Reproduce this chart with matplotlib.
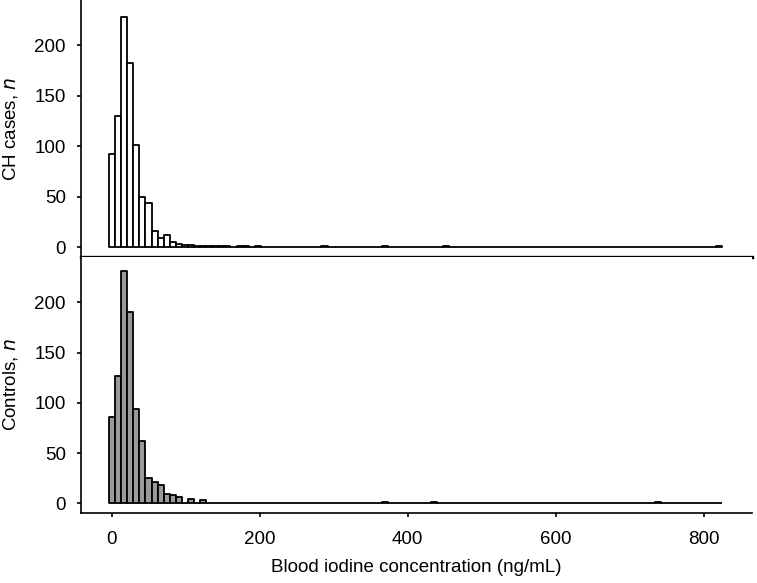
import numpy as np
import matplotlib
matplotlib.use("Agg")
import matplotlib.pyplot as plt

plt.rcParams['font.family'] = ['Liberation Sans', 'DejaVu Sans']

# Histogram bins (blood iodine, ng/mL)
bin_start = -3.6
bin_width = 8.2
n_bins = 101

# CH cases counts per bin (non-zero bins)
cases_bins = [0, 1, 2, 3, 4, 5, 6, 7, 8, 9, 10, 11, 12, 13, 14, 15, 16, 17, 18, 19, 21, 22, 24, 35, 45, 55, 100]
cases_counts = [92, 130, 228, 183, 101, 50, 44, 16, 9, 12, 5, 3, 2, 2, 1, 1, 1, 1, 1, 1, 1, 1, 1, 1, 1, 1, 1]

# Controls counts per bin (non-zero bins)
controls_bins = [0, 1, 2, 3, 4, 5, 6, 7, 8, 9, 10, 11, 13, 15, 45, 53, 90]
controls_counts = [86, 127, 231, 190, 94, 62, 25, 21, 18, 9, 8, 6, 4, 3, 1, 1, 1]

x_ticks = [0, 200, 400, 600, 800]
y_ticks = [0, 50, 100, 150, 200]

def full(bins, counts):
    arr = np.zeros(n_bins)
    arr[bins] = counts
    return arr

lefts = bin_start + bin_width * np.arange(n_bins)
cases = full(cases_bins, cases_counts)
controls = full(controls_bins, controls_counts)

fig = plt.figure(figsize=(7.57, 5.83), dpi=100)
ax1 = fig.add_axes([81/757, (583-257)/583, (752-81)/757, 257/583])
ax2 = fig.add_axes([81/757, (583-513)/583, (752-81)/757, (513-257)/583])

ax1.bar(lefts, cases, width=bin_width, align='edge', color='white',
        edgecolor='black', linewidth=1.3, joinstyle='round')
ax2.bar(lefts, controls, width=bin_width, align='edge', color='#9a9a9a',
        edgecolor='black', linewidth=1.3, joinstyle='round')

for ax in (ax1, ax2):
    ax.set_xlim(-41.5, 865)
    ax.set_ylim(-9.6, 245)
    ax.set_yticks(y_ticks)
    ax.spines['top'].set_visible(False)
    ax.spines['right'].set_visible(False)
    ax.spines['left'].set_linewidth(1.2)
    ax.tick_params(axis='y', direction='out', length=3, width=1.2, labelsize=13.5, pad=8)
    ax.tick_params(axis='x', direction='out', length=3, width=1.2, labelsize=13.5, pad=10)

ax1.spines['bottom'].set_linewidth(2.4)
ax1.set_xticks([])
ax2.spines['bottom'].set_linewidth(1.2)
ax2.set_xticks(x_ticks)

ax1.set_ylabel('CH cases, $\\it{n}$', fontsize=13.5, labelpad=10)
ax2.set_ylabel('Controls, $\\it{n}$', fontsize=13.5, labelpad=10)
ax2.set_xlabel('Blood iodine concentration (ng/mL)', fontsize=13.5, labelpad=8)

fig.savefig('out.png', dpi=100)
